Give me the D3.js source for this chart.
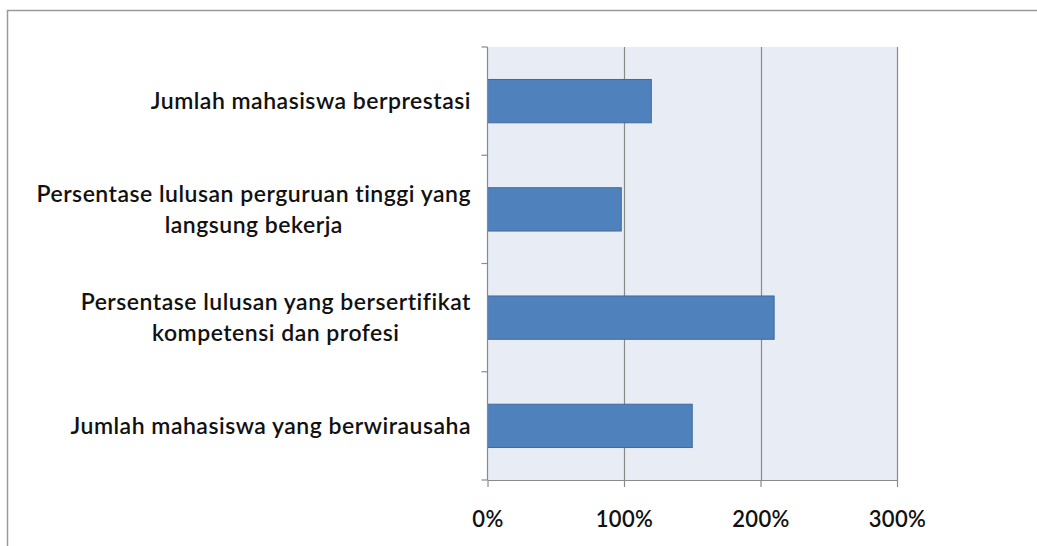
<!DOCTYPE html>
<html>
<head>
<meta charset="utf-8">
<script src="https://cdn.jsdelivr.net/npm/d3@7"></script>
<style>
  html, body { margin: 0; padding: 0; background: #fff; }
  body { width: 1037px; height: 546px; overflow: hidden; }
  text { font-family: Lato, "Open Sans", sans-serif; fill: #111; }
</style>
</head>
<body>
<div id="chart"></div>
<script>
// categories top to bottom, each label split into its lines
var categories = [
  ["Jumlah mahasiswa berprestasi"],
  ["Persentase lulusan perguruan tinggi yang", "langsung bekerja"],
  ["Persentase lulusan yang bersertifikat", "kompetensi dan profesi"],
  ["Jumlah mahasiswa yang berwirausaha"]
];
var values = [1.20, 0.98, 2.10, 1.50];
var xTicks = [0, 1, 2, 3];

var width = 1037, height = 546;
var plot = { left: 487.5, right: 897, top: 47, bottom: 480 };

var svg = d3.select("#chart").append("svg")
    .attr("width", width)
    .attr("height", height);

// outer chart frame (runs off the right / bottom edge)
svg.append("rect")
    .attr("x", 7.5).attr("y", 10.5)
    .attr("width", 1100).attr("height", 600)
    .attr("fill", "none")
    .attr("stroke", "#9a9a9a")
    .attr("stroke-width", 1.5);

var x = d3.scaleLinear().domain([0, 3]).range([plot.left, plot.right]);
var y = d3.scaleBand()
    .domain(d3.range(categories.length))
    .range([plot.top, plot.bottom])
    .paddingInner(0.6)
    .paddingOuter(0.3);

// plot area background
svg.append("rect")
    .attr("x", plot.left).attr("y", plot.top)
    .attr("width", plot.right - plot.left)
    .attr("height", plot.bottom - plot.top)
    .attr("fill", "#e8ecf4");

// vertical gridlines
svg.append("g")
    .selectAll("line")
    .data(xTicks.slice(1))
    .enter().append("line")
    .attr("x1", function(d) { return Math.round(x(d)) + 0.5; })
    .attr("x2", function(d) { return Math.round(x(d)) + 0.5; })
    .attr("y1", plot.top)
    .attr("y2", plot.bottom)
    .attr("stroke", "#8a8a8a")
    .attr("stroke-width", 1.2);

// bars
svg.append("g")
    .selectAll("rect")
    .data(values)
    .enter().append("rect")
    .attr("x", x(0))
    .attr("y", function(d, i) { return y(i); })
    .attr("width", function(d) { return x(d) - x(0); })
    .attr("height", y.bandwidth())
    .attr("fill", "#4f81bd")
    .attr("stroke", "#3f6a9c")
    .attr("stroke-width", 1);

// x axis
var xAxis = svg.append("g")
    .attr("transform", "translate(0," + plot.bottom + ")")
    .call(d3.axisBottom(x)
        .tickValues(xTicks)
        .tickFormat(function(d) { return (d * 100) + "%"; })
        .tickSizeInner(7)
        .tickSizeOuter(0)
        .tickPadding(24));
xAxis.select(".domain").attr("stroke", "#8a8a8a").attr("stroke-width", 1.2);
xAxis.selectAll(".tick line").attr("stroke", "#8a8a8a").attr("stroke-width", 1.2);
xAxis.selectAll(".tick text")
    .attr("font-size", 22)
    .attr("font-weight", 600)
    .attr("letter-spacing", 0.4)
    .attr("fill", "#111");

// y axis line with ticks on band boundaries
var yAxis = svg.append("g");
yAxis.append("line")
    .attr("x1", plot.left).attr("x2", plot.left)
    .attr("y1", plot.top).attr("y2", plot.bottom)
    .attr("stroke", "#8a8a8a").attr("stroke-width", 1.2);
var bounds = d3.range(categories.length + 1).map(function(i) {
  return plot.top + i * y.step();
});
yAxis.selectAll("line.tk")
    .data(bounds)
    .enter().append("line")
    .attr("class", "tk")
    .attr("x1", plot.left - 6).attr("x2", plot.left)
    .attr("y1", function(d) { return d; })
    .attr("y2", function(d) { return d; })
    .attr("stroke", "#8a8a8a").attr("stroke-width", 1.2);

// category labels: lines centred on each other, block right-aligned
var lineH = 31;
categories.forEach(function(lines, i) {
  var cy = y(i) + y.bandwidth() / 2;
  var g = svg.append("g");
  var t = g.append("text")
      .attr("font-size", 23)
      .attr("font-weight", 600)
      .attr("letter-spacing", 0.5)
      .attr("text-anchor", "middle");
  lines.forEach(function(s, j) {
    t.append("tspan")
        .attr("x", 0)
        .attr("y", cy + (j - (lines.length - 1) / 2) * lineH + 8)
        .text(s);
  });
  var bb = t.node().getBBox();
  g.attr("transform", "translate(" + (471 - bb.width / 2) + ",0)");
});
</script>
</body>
</html>
